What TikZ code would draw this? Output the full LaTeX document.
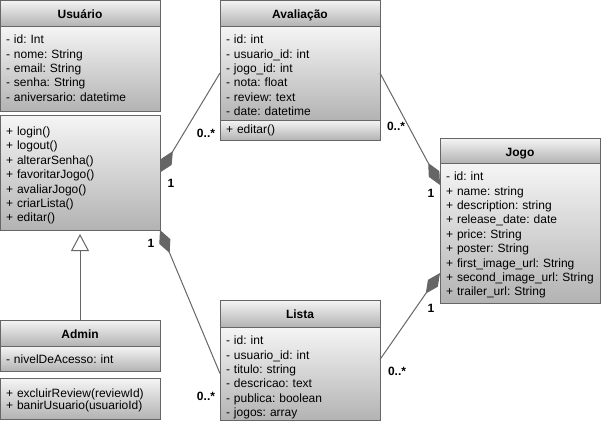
\documentclass[tikz,border=0pt]{standalone}
\usepackage{fontspec}
\setmainfont{Liberation Sans}
\usetikzlibrary{arrows.meta,positioning}
\definecolor{umlline}{HTML}{666666}
\definecolor{umltop}{HTML}{F5F5F5}
\definecolor{umlbot}{HTML}{B3B3B3}
\frenchspacing
\tikzset{
  umlbox/.style={draw=umlline, line width=1pt, top color=umltop, bottom color=umlbot,
    minimum width=160, outer sep=0pt},
  hdr/.style={umlbox, font=\fontsize{12}{14.4}\selectfont\bfseries, inner sep=0pt,
    text height=18pt, text depth={#1pt-18pt}},
  fld/.style={umlbox, font=\fontsize{12}{14.4}\selectfont\frenchspacing, align=left, text width=148,
    inner xsep=6pt, inner ysep=0pt, text height=17.6pt, text depth={#1pt-17.6pt}},
  assoc/.style={draw=umlline, line width=1pt},
  comp/.style={assoc, {Diamond[length=25pt,width=12pt,fill=umlline]}-},
  inh/.style={assoc, -{Triangle[open,length=17pt,width=18pt,fill=white]}, shorten >=4pt},
  mult/.style={font=\fontsize{12}{14}\selectfont\bfseries, inner sep=0pt},
}
\begin{document}
\begin{tikzpicture}[x=1pt,y=-1pt]
  \useasboundingbox (0,0) rectangle (601,424);
  \node[hdr=26] (usuario) at (80,13) {Usuário};
  \node[fld=85, below=0pt of usuario] (usuarioA) {- id: Int\\- nome: String\\- email: String\\- senha: String\\- aniversario: datetime};
  \node[fld=115, text height=20.5pt, text depth=94.5pt, below=4pt of usuarioA] (usuarioM)
    {+ login()\\+ logout()\\+ alterarSenha()\\+ favoritarJogo()\\+ avaliarJogo()\\+ criarLista()\\+ editar()};

  \node[hdr=26] (avaliacao) at (300,13) {Avaliação};
  \node[fld=94, below=0pt of avaliacao] (avaliacaoA) {- id: int\\- usuario\_id: int\\- jogo\_id: int\\- nota: float\\- review: text\\- date: datetime};
  \node[fld=20, text height=13.8pt, text depth=6.2pt, below=0pt of avaliacaoA] (avaliacaoM) {+ editar()};

  \node[hdr=25] (jogo) at (520,150.5) {Jogo};
  \node[fld=140, below=0pt of jogo] (jogoA) {- id: int\\+ name: string\\+ description: string\\+ release\_date: date\\+ price: String\\+ poster: String\\+ first\_image\_url: String\\+ second\_image\_url: String\\+ trailer\_url: String};

  \node[hdr=27] (lista) at (300,313.5) {Lista};
  \node[fld=93, below=0pt of lista] (listaA) {- id: int\\- usuario\_id: int\\- titulo: string\\- descricao: text\\- publica: boolean\\- jogos: array};

  \node[hdr=26] (admin) at (80,333) {Admin};
  \node[fld=25, below=0pt of admin] (adminA) {- nivelDeAcesso: int};
  \node[fld=41, font=\fontsize{12}{12}\selectfont\frenchspacing, text height=19.5pt, text depth=21.5pt, below=7pt of adminA] (adminM)
    {+ excluirReview(reviewId)\\+ banirUsuario(usuarioId)};

  \draw[comp] (usuarioM.east) -- (avaliacaoA.west);
  \draw[comp] ([yshift=-22pt]jogoA.north west) -- (avaliacaoA.east);
  \draw[comp] (usuarioM.south east) -- (listaA.west);
  \draw[comp] ([yshift=30pt]jogoA.south west) -- ([yshift=14pt]listaA.east);
  \draw[inh] (admin.north) -- (usuarioM.south);

  \node[mult] (usuarioAv) at (171,183) {1};
  \node[mult] (avaliacaoUs) at (206,133) {0..*};
  \node[mult] (avaliacaoJg) at (396,126) {0..*};
  \node[mult] (jogoAv) at (431,193) {1};
  \node[mult] (usuarioLs) at (151,243) {1};
  \node[mult] (listaUs) at (206,396) {0..*};
  \node[mult] (listaJg) at (397,371) {0..*};
  \node[mult] (jogoLs) at (431,308) {1};
\end{tikzpicture}
\end{document}
